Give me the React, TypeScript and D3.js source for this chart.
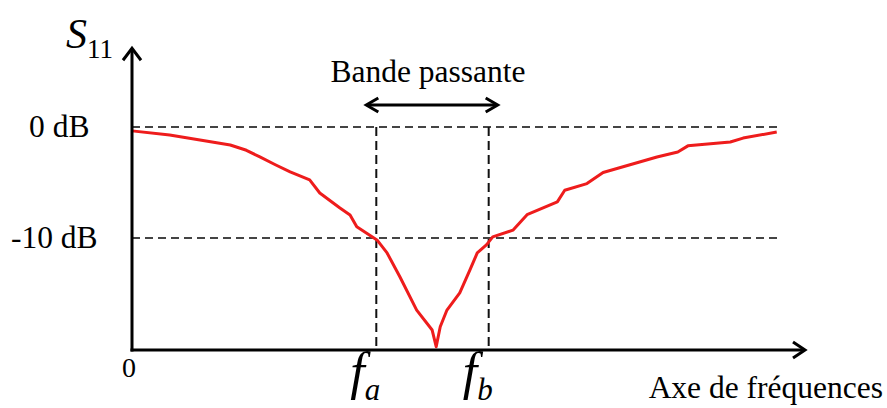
import React from "react";
import * as d3 from "d3";

// Frequency (arbitrary units, 0..100 along the axis) and S11 (dB)
const freqs = [0, 5.6, 10.1, 14.6, 17.0, 19.0, 21.3, 23.5, 26.4, 27.9, 30.9, 32.4, 33.4, 36.4, 37.9, 39.8, 42.3, 44.6, 45.2, 45.8, 46.8, 48.7, 50.2, 51.3, 52.7, 53.6, 56.6, 58.7, 63.2, 64.3, 67.6, 70.0, 74.0, 78.0, 81.1, 82.6, 88.9, 90.8, 95.8];
const s11 = [-0.35, -0.72, -1.17, -1.62, -2.1, -2.7, -3.4, -4.05, -4.77, -5.95, -7.3, -7.93, -9.0, -10.18, -11.35, -13.5, -16.5, -18.3, -19.8, -18.0, -16.5, -14.95, -12.9, -11.35, -10.6, -9.9, -9.3, -7.9, -6.75, -5.7, -5.1, -4.1, -3.4, -2.7, -2.25, -1.7, -1.35, -1.0, -0.45];

const levelValues = [0, -10];
const levelLabels = ["0 dB", "-10 dB"];
const bandEdges = [36.3, 53.0];
const bandNames = ["a", "b"];

const W = 887;
const H = 408;

export default function App() {
  const x = d3.scaleLinear().domain([0, 100]).range([132, 805]);
  const y = d3.scaleLinear().domain([-20.1, 0]).range([350, 127]);
  const line = d3
    .line<number>()
    .x((_, i) => x(freqs[i]))
    .y((d) => y(d))
    .curve(d3.curveLinear);

  const x0 = x(0);
  const y0 = y(-20.1);
  const yTop = y(7.1);
  const xEnd = x(100);
  const dashEnd = x(95.9);
  const font = "'Liberation Serif', 'Times New Roman', serif";

  return (
    <svg
      width={W}
      height={H}
      style={{ position: "absolute", left: 0, top: 0, background: "#fff" }}
      fontFamily={font}
    >
      <rect width={W} height={H} fill="#fff" />
      {/* horizontal dashed levels */}
      {levelValues.map((v, i) => (
        <g key={"lv" + i}>
          <line
            x1={x0}
            x2={dashEnd}
            y1={y(v)}
            y2={y(v)}
            stroke="#444"
            strokeWidth={2}
            strokeDasharray="8 5"
          />
          <text
            x={i === 0 ? 29 : 11}
            y={y(v)}
            dy="0.33em"
            fontSize={31.5}
            fill="#000"
          >
            {levelLabels[i]}
          </text>
        </g>
      ))}
      {/* vertical dashed band edges */}
      {bandEdges.map((f, i) => (
        <g key={"be" + i}>
          <line
            x1={x(f)}
            x2={x(f)}
            y1={y(0)}
            y2={y0}
            stroke="#111"
            strokeWidth={2}
            strokeDasharray="9 5"
          />
          <text x={x(f) - 26} y={389} fontSize={52} fontStyle="italic" fill="#000">
            f
            <tspan fontSize={31} dx={0} dy={11}>
              {bandNames[i]}
            </tspan>
          </text>
        </g>
      ))}
      {/* curve */}
      <path d={line(s11) || ""} fill="none" stroke="#ee1c1c" strokeWidth={3} strokeLinejoin="round" />
      {/* axes */}
      <line x1={x0} x2={x0} y1={y0 + 1.5} y2={yTop + 1} stroke="#000" strokeWidth={3} />
      <polyline
        points={`${x0 - 9},${yTop + 12} ${x0},${yTop} ${x0 + 9},${yTop + 12}`}
        fill="none"
        stroke="#000"
        strokeWidth={3}
      />
      <line x1={x0 - 1.5} x2={xEnd - 1} y1={y0} y2={y0} stroke="#000" strokeWidth={3} />
      <polyline
        points={`${xEnd - 12},${y0 - 8} ${xEnd},${y0} ${xEnd - 12},${y0 + 8}`}
        fill="none"
        stroke="#000"
        strokeWidth={3}
      />
      {/* band arrow */}
      <line x1={x(bandEdges[0]) - 8} x2={x(bandEdges[1]) + 7} y1={105} y2={105} stroke="#000" strokeWidth={3} />
      <polyline
        points={`${x(bandEdges[0]) + 2},${98} ${x(bandEdges[0]) - 10},${105} ${x(bandEdges[0]) + 2},${112}`}
        fill="none"
        stroke="#000"
        strokeWidth={3}
      />
      <polyline
        points={`${x(bandEdges[1]) - 3},${98} ${x(bandEdges[1]) + 9},${105} ${x(bandEdges[1]) - 3},${112}`}
        fill="none"
        stroke="#000"
        strokeWidth={3}
      />
      <text x={428} y={82} fontSize={31.5} textAnchor="middle" fill="#000">
        Bande passante
      </text>
      {/* labels */}
      <text x={66} y={48} fontSize={42} fontStyle="italic" fill="#000">
        S
        <tspan fontSize={27} fontStyle="normal" dy={10}>
          11
        </tspan>
      </text>
      <text x={129} y={377} fontSize={28} textAnchor="middle" fill="#000">
        0
      </text>
      <text x={883} y={398} fontSize={31.5} textAnchor="end" fill="#000">
        Axe de fréquences
      </text>
    </svg>
  );
}
